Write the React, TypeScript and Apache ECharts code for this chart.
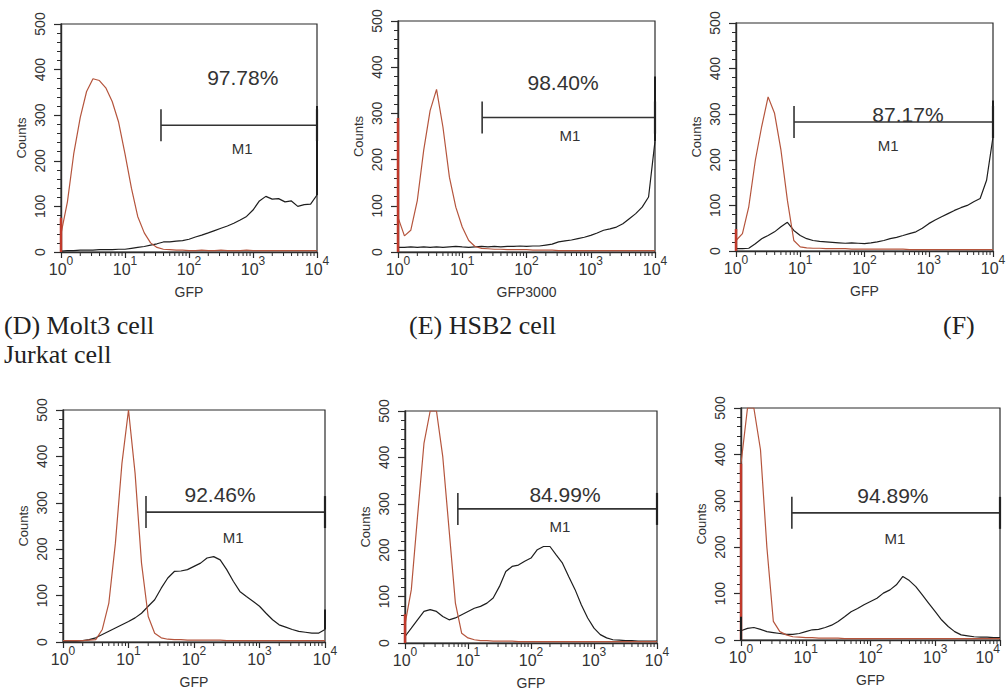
import React, { useEffect, useRef } from "react";
import * as echarts from "echarts";

// GFP fluorescence channels (log scale, 0.1-decade steps)
const gfpChannels = [
  1, 1.26, 1.58, 2, 2.51, 3.16, 3.98, 5.01, 6.31, 7.94,
  10, 12.6, 15.8, 20, 25.1, 31.6, 39.8, 50.1, 63.1, 79.4,
  100, 126, 158, 200, 251, 316, 398, 501, 631, 794,
  1000, 1259, 1585, 1995, 2512, 3162, 3981, 5012, 6310, 7943, 10000,
];

// Panel A
const aControl = [40, 110, 215, 295, 352, 380, 376, 360, 330, 285, 215, 140, 78, 42, 20, 10, 6, 5, 4, 4, 3, 3, 4, 3, 3, 4, 3, 3, 3, 4, 3, 3, 3, 3, 3, 3, 3, 3, 3, 3, 3];
const aGfp = [2, 3, 3, 4, 4, 4, 5, 5, 5, 6, 6, 8, 10, 12, 15, 18, 22, 22, 24, 25, 28, 33, 37, 42, 47, 52, 57, 63, 70, 78, 92, 112, 122, 116, 117, 110, 112, 100, 104, 105, 125];
// Panel B
const bControl = [75, 35, 47, 112, 220, 306, 352, 270, 162, 97, 54, 25, 12, 8, 7, 6, 6, 5, 5, 5, 5, 4, 4, 4, 4, 3, 3, 3, 3, 3, 3, 3, 3, 3, 3, 3, 3, 3, 3, 3, 3];
const bGfp = [10, 10, 11, 10, 11, 10, 11, 10, 11, 12, 11, 10, 11, 12, 11, 12, 11, 12, 12, 13, 12, 13, 13, 15, 17, 22, 24, 26, 29, 32, 36, 41, 47, 50, 54, 61, 72, 83, 97, 119, 240];
// Panel C
const cControl = [23, 38, 97, 199, 273, 338, 302, 221, 111, 23, 9, 7, 6, 6, 5, 5, 5, 5, 4, 4, 4, 4, 4, 4, 4, 4, 4, 3, 3, 3, 3, 3, 3, 3, 3, 3, 3, 3, 3, 3, 3];
const cGfp = [5, 5, 6, 16, 27, 34, 42, 53, 63, 45, 34, 27, 23, 21, 20, 19, 18, 17, 18, 17, 16, 18, 20, 23, 27, 30, 34, 38, 42, 50, 60, 68, 75, 82, 89, 95, 100, 108, 115, 155, 250];
// Panel D (Molt3)
const dControl = [3, 3, 3, 3, 4, 5, 27, 84, 213, 385, 500, 364, 170, 55, 19, 9, 6, 5, 5, 4, 4, 4, 4, 4, 4, 3, 3, 3, 3, 3, 3, 3, 3, 3, 3, 3, 3, 3, 3, 3, 3];
const dGfp = [2, 2, 2, 3, 5, 9, 16, 23, 30, 37, 44, 52, 62, 77, 91, 116, 138, 152, 153, 156, 163, 170, 181, 184, 177, 156, 131, 109, 98, 88, 77, 62, 48, 37, 32, 27, 23, 21, 19, 19, 27];
// Panel E (HSB2)
const eControl = [40, 115, 272, 430, 500, 500, 401, 244, 86, 21, 11, 7, 5, 5, 4, 4, 4, 4, 3, 3, 3, 3, 3, 3, 3, 3, 3, 3, 3, 3, 3, 3, 3, 3, 3, 3, 3, 3, 3, 3, 3];
const eGfp = [14, 32, 50, 68, 72, 68, 57, 50, 54, 61, 68, 75, 79, 86, 97, 122, 154, 165, 168, 176, 183, 201, 208, 208, 190, 172, 143, 115, 82, 54, 32, 18, 11, 7, 6, 5, 5, 4, 4, 4, 4];
// Panel F (Jurkat)
const fControl = [380, 500, 500, 410, 200, 40, 18, 11, 7, 6, 5, 5, 4, 4, 4, 4, 3, 3, 3, 3, 3, 3, 3, 3, 3, 3, 3, 3, 3, 3, 3, 3, 3, 3, 3, 3, 3, 3, 3, 3, 3];
const fGfp = [20, 25, 27, 23, 18, 16, 14, 12, 12, 14, 18, 22, 23, 27, 32, 40, 50, 61, 68, 76, 83, 90, 101, 108, 119, 137, 128, 115, 97, 79, 61, 43, 29, 18, 11, 9, 7, 6, 6, 5, 5];

const controlSeries = [aControl, bControl, cControl, dControl, eControl, fControl];
const gfpSeries = [aGfp, bGfp, cGfp, dGfp, eGfp, fGfp];

// counts piled up in the first / last channel
const firstChannelControl = [75, 290, 48, 0, 62, 380];
const firstChannelGfp = [0, 0, 0, 0, 0, 50];
const lastChannelGfp = [320, 380, 330, 70, 0, 0];

// M1 marker gates and labels
const panelPercents = ["97.78%", "98.40%", "87.17%", "92.46%", "84.99%", "94.89%"];
const panelXNames = ["GFP", "GFP3000", "GFP", "GFP", "GFP", "GFP"];
const markerStarts = [36.5, 20.4, 8, 18.5, 6.9, 6.1];
const markerEnds = [10000, 10000, 10000, 10000, 10000, 10000];
const markerLevels = [278, 291, 283, 280, 289, 274];
const percentAt = [[692, 382], [371, 366], [475, 300], [250, 317], [347, 319], [222, 312]];
const m1At = [[676, 228], [475, 252], [233, 232], [395, 226], [288, 252], [239, 218]];

// minor log ticks
const minorTickValues = [
  2, 3, 4, 5, 6, 7, 8, 9,
  20, 30, 40, 50, 60, 70, 80, 90,
  200, 300, 400, 500, 600, 700, 800, 900,
  2000, 3000, 4000, 5000, 6000, 7000, 8000, 9000,
];

const captions = [
  { text: "(D) Molt3 cell", x: 4, y: 325 },
  { text: "Jurkat cell", x: 4, y: 354 },
  { text: "(E) HSB2 cell", x: 409, y: 325 },
  { text: "(F)", x: 943, y: 325 },
];

const gridBoxes = [
  { left: 61, top: 24, width: 256, height: 228 },
  { left: 398, top: 21, width: 257, height: 231 },
  { left: 736, top: 23, width: 257, height: 228 },
  { left: 63, top: 410, width: 262, height: 232 },
  { left: 405, top: 411, width: 252, height: 232 },
  { left: 741, top: 408, width: 259, height: 232 },
];

const SANS = "'Liberation Sans', Arial, sans-serif";
const SERIF = "'Liberation Serif', 'Times New Roman', serif";
const INK = "#2b2b2b";
const RED = "#b5553d";
const BLACK = "#1e1e1e";

function buildOption() {
  const grid = gridBoxes.map((b) => ({
    ...b,
    show: true,
    borderColor: INK,
    borderWidth: 1.2,
    backgroundColor: "transparent",
    containLabel: false,
    outerBoundsMode: "none",
  }));

  const xAxis = gridBoxes.map((_, i) => ({
    type: "log",
    logBase: 10,
    gridIndex: i,
    min: 1,
    max: 10000,
    name: panelXNames[i],
    nameLocation: "middle",
    nameGap: 33,
    nameTextStyle: { fontSize: 14, color: "#333", fontFamily: SANS },
    axisLine: { show: true, onZero: false, lineStyle: { color: INK, width: 1.4 } },
    axisTick: { show: true, length: 6, lineStyle: { color: INK, width: 1.2 } },
    minorTick: { show: false },
    splitLine: { show: false },
    minorSplitLine: { show: false },
    axisLabel: {
      margin: 3,
      color: "#333",
      alignMaxLabel: i === 5 ? "right" : undefined,
      formatter: (v: number) => `{b|10}{s|${Math.round(Math.log10(v))}}`,
      rich: {
        b: { fontSize: 16, fontFamily: SANS, color: "#333", lineHeight: 22, verticalAlign: "bottom" },
        s: { fontSize: 12, fontFamily: SANS, color: "#333", lineHeight: 12, verticalAlign: "top" },
      },
    },
  }));

  const yAxis = gridBoxes.map((_, i) => ({
    type: "value",
    gridIndex: i,
    min: 0,
    max: 500,
    interval: 100,
    name: "Counts",
    nameLocation: "middle",
    nameGap: 33,
    nameRotate: 90,
    nameTextStyle: { fontSize: 13, color: "#333", fontFamily: SANS },
    axisLine: { show: true, lineStyle: { color: INK, width: 1.4 } },
    axisTick: { show: true, length: 7, lineStyle: { color: INK, width: 1.2 } },
    minorTick: { show: true, splitNumber: 5, length: 4, lineStyle: { color: INK, width: 1 } },
    splitLine: { show: false },
    minorSplitLine: { show: false },
    axisLabel: { rotate: 90, margin: 14, fontSize: 14, color: "#333", fontFamily: SANS },
  }));

  const series: any[] = [];
  gridBoxes.forEach((_, i) => {
    series.push({
      type: "line",
      xAxisIndex: i,
      yAxisIndex: i,
      symbol: "none",
      data: gfpChannels.map((x, k) => [x, gfpSeries[i][k]]),
      lineStyle: { color: BLACK, width: 1.2 },
      z: 3,
    });
    series.push({
      type: "line",
      xAxisIndex: i,
      yAxisIndex: i,
      symbol: "none",
      data: gfpChannels.map((x, k) => [x, controlSeries[i][k]]),
      lineStyle: { color: RED, width: 1.2 },
      z: 4,
    });
    if (firstChannelControl[i] > 0) {
      series.push({
        type: "line", xAxisIndex: i, yAxisIndex: i, symbol: "none",
        data: [[gfpChannels[0], 0], [gfpChannels[0], firstChannelControl[i]]],
        lineStyle: { color: "#c0392b", width: 2.5 }, z: 4,
      });
    }
    if (firstChannelGfp[i] > 0) {
      series.push({
        type: "line", xAxisIndex: i, yAxisIndex: i, symbol: "none",
        data: [[gfpChannels[0], 0], [gfpChannels[0], firstChannelGfp[i]]],
        lineStyle: { color: BLACK, width: 2 }, z: 5,
      });
    }
    if (lastChannelGfp[i] > 0) {
      const last = gfpChannels[gfpChannels.length - 1];
      series.push({
        type: "line", xAxisIndex: i, yAxisIndex: i, symbol: "none",
        data: [[last, gfpSeries[i][gfpSeries[i].length - 1]], [last, lastChannelGfp[i]]],
        lineStyle: { color: BLACK, width: 2 }, z: 5,
      });
    }
    // minor log ticks
    series.push({
      type: "custom",
      xAxisIndex: i,
      yAxisIndex: i,
      silent: true,
      clip: false,
      data: minorTickValues.map((v) => [v, 0]),
      encode: { x: 0, y: 1 },
      renderItem: (_p: any, api: any) => {
        const pt = api.coord([api.value(0), 0]);
        return {
          type: "line",
          shape: { x1: pt[0], y1: pt[1], x2: pt[0], y2: pt[1] + 4 },
          style: { stroke: INK, lineWidth: 1 },
        };
      },
      z: 6,
    });
    // M1 marker
    series.push({
      type: "custom",
      xAxisIndex: i,
      yAxisIndex: i,
      silent: true,
      clip: false,
      data: [[markerStarts[i], markerEnds[i], markerLevels[i]]],
      encode: { x: [0, 1], y: 2 },
      renderItem: (_p: any, api: any) => {
        const a = api.coord([api.value(0), api.value(2)]);
        const b = api.coord([api.value(1), api.value(2)]);
        const st = { stroke: "#333", lineWidth: 1.6 };
        return {
          type: "group",
          children: [
            { type: "line", shape: { x1: a[0], y1: a[1], x2: b[0], y2: b[1] }, style: st },
            { type: "line", shape: { x1: a[0], y1: a[1] - 16, x2: a[0], y2: a[1] + 16 }, style: st },
            { type: "line", shape: { x1: b[0], y1: b[1] - 16, x2: b[0], y2: b[1] + 16 }, style: { stroke: "#222", lineWidth: 2.2 } },
          ],
        };
      },
      z: 7,
    });
    // texts
    series.push({
      type: "custom",
      xAxisIndex: i,
      yAxisIndex: i,
      silent: true,
      clip: false,
      data: [[percentAt[i][0], percentAt[i][1], m1At[i][0], m1At[i][1]]],
      encode: { x: [0, 2], y: [1, 3] },
      renderItem: (_p: any, api: any) => {
        const pp = api.coord([api.value(0), api.value(1)]);
        const mp = api.coord([api.value(2), api.value(3)]);
        return {
          type: "group",
          children: [
            {
              type: "text",
              x: pp[0],
              y: pp[1],
              style: {
                text: panelPercents[i], fontSize: 21, fontFamily: SANS, fill: "#333",
                align: "center", verticalAlign: "middle", textAlign: "center", textVerticalAlign: "middle",
              },
            },
            {
              type: "text",
              x: mp[0],
              y: mp[1],
              style: {
                text: "M1", fontSize: 15, fontFamily: SANS, fill: "#333",
                align: "center", verticalAlign: "middle", textAlign: "center", textVerticalAlign: "middle",
              },
            },
          ],
        };
      },
      z: 8,
    });
  });

  return {
    animation: false,
    backgroundColor: "#ffffff",
    grid,
    xAxis,
    yAxis,
    series,
    graphic: captions.map((c) => ({
      type: "text",
      x: c.x,
      y: c.y,
      style: {
        text: c.text, fontSize: 26, fontFamily: SERIF, fill: "#222",
        align: "left", verticalAlign: "middle", textAlign: "left", textVerticalAlign: "middle",
      },
    })),
  };
}

export default function App() {
  const ref = useRef<HTMLDivElement>(null);
  useEffect(() => {
    if (!ref.current) return;
    const chart = echarts.init(ref.current, undefined, { renderer: "svg" });
    chart.setOption(buildOption() as any);
    return () => chart.dispose();
  }, []);
  return (
    <div
      ref={ref}
      style={{ position: "absolute", left: 0, top: 0, width: 1006, height: 692, background: "#fff" }}
    />
  );
}
